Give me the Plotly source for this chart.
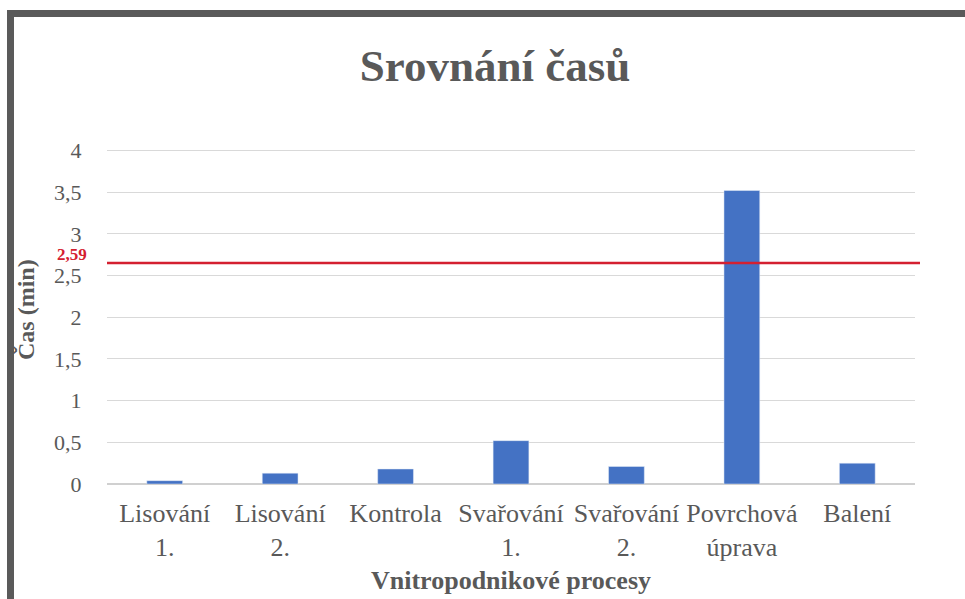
import plotly.graph_objects as go

categories = ["Lisování<br>1.", "Lisování<br>2.", "Kontrola", "Svařování<br>1.",
              "Svařování<br>2.", "Povrchová<br>úprava", "Balení"]
times_min = [0.04, 0.13, 0.18, 0.52, 0.21, 3.52, 0.25]
avg_value = 2.65
avg_label = "2,59"
y_tickvals = [0, 0.5, 1, 1.5, 2, 2.5, 3, 3.5, 4]
y_ticktext = ["0", "0,5", "1", "1,5", "2", "2,5", "3", "3,5", "4"]

W, H = 965, 599
L, R, T, B = 107, 50, 148, 115
pw, ph = W - L - R, H - T - B

def px(x):
    return (x - L) / pw

def py(y):
    return (H - B - y) / ph

GREY = "#595959"
SERIF = "Liberation Serif, Times New Roman, serif"

fig = go.Figure()
fig.add_trace(go.Bar(x=categories, y=times_min, marker_color="#4472c4",
                     width=0.31, showlegend=False))

fig.update_layout(
    width=W, height=H,
    margin=dict(l=L, r=R, t=T, b=B),
    paper_bgcolor="white", plot_bgcolor="white",
    font=dict(family=SERIF, color=GREY),
    title=dict(text="<b>Srovnání časů</b>", x=495 / W, xanchor="center",
               y=1 - 65 / H, yanchor="middle",
               font=dict(size=45, family=SERIF, color=GREY)),
    xaxis=dict(showgrid=False, showline=False, zeroline=False,
               tickfont=dict(size=26, family=SERIF, color=GREY),
               ticks="outside", ticklen=6, tickcolor="rgba(0,0,0,0)"),
    yaxis=dict(range=[0, 4.03], tickvals=y_tickvals, ticktext=y_ticktext,
               showgrid=True, gridcolor="#d9d9d9", gridwidth=1.3,
               zeroline=True, zerolinecolor="#d0d0d0", zerolinewidth=1.5,
               showline=False,
               tickfont=dict(size=22, family=SERIF, color=GREY),
               ticks="outside", ticklen=20, tickcolor="rgba(0,0,0,0)"),
    bargap=0.69,
)

# average line
fig.add_shape(type="line", xref="paper", yref="y", x0=0, x1=px(920),
              y0=avg_value, y1=avg_value, line=dict(color="#d42030", width=2.5))
fig.add_annotation(xref="paper", yref="y", x=px(89), y=avg_value, yshift=9,
                   text="<b>" + avg_label + "</b>", showarrow=False,
                   xanchor="right", yanchor="middle",
                   font=dict(size=17, family=SERIF, color="#d42030"))

# axis titles
fig.add_annotation(xref="paper", yref="paper", x=px(511), y=py(580),
                   text="<b>Vnitropodnikové procesy</b>", showarrow=False,
                   xanchor="center", yanchor="middle",
                   font=dict(size=26, family=SERIF, color=GREY))
fig.add_annotation(xref="paper", yref="paper", x=px(26), y=py(310),
                   text="<b>Čas (min)</b>", showarrow=False, textangle=-90,
                   xanchor="center", yanchor="middle",
                   font=dict(size=24, family=SERIF, color=GREY))

# frame
fig.add_shape(type="rect", xref="paper", yref="paper", x0=px(7), x1=px(965),
              y0=py(17), y1=py(10), fillcolor="#5a5a5a", line=dict(width=0),
              layer="above")
fig.add_shape(type="rect", xref="paper", yref="paper", x0=px(7), x1=px(14),
              y0=py(600), y1=py(10), fillcolor="#5a5a5a", line=dict(width=0),
              layer="above")

fig.write_html("out.html", config={"displayModeBar": False},
               post_script="document.body.style.margin='0';document.body.style.overflow='hidden';")
